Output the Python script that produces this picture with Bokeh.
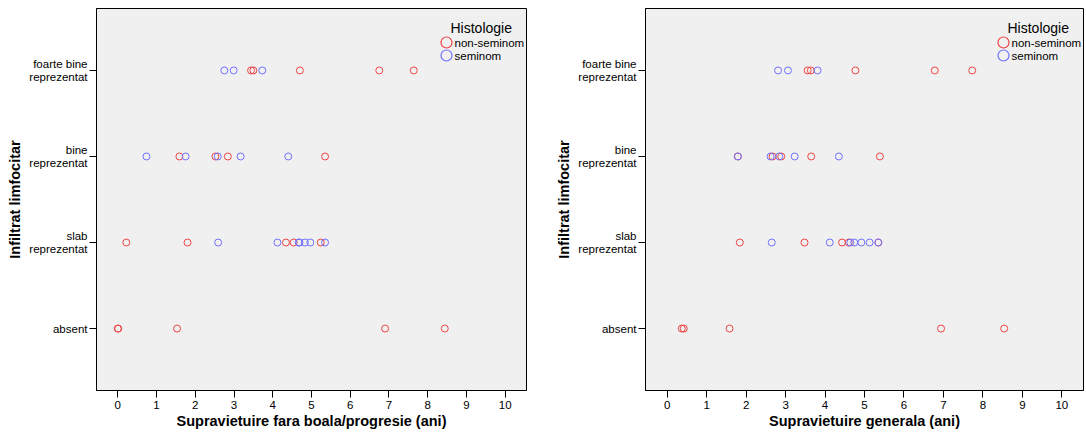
from bokeh.plotting import figure
from bokeh.models import Range1d, FixedTicker, Label, ColumnDataSource
from bokeh.layouts import row
from bokeh.embed import file_html
from bokeh.resources import INLINE

# ---------------- data ----------------
categories = ["absent", "slab\nreprezentat", "bine\nreprezentat", "foarte bine\nreprezentat"]
x_ticks = [0, 1, 2, 3, 4, 5, 6, 7, 8, 9, 10]
groups = ["non-seminom", "seminom"]
legend_title = "Histologie"

# Left chart: Supravietuire fara boala/progresie (ani)
pfs_non_absent = [0.0, 0.01, 1.53, 6.90, 8.44]
pfs_non_slab = [0.22, 1.80, 4.34, 4.54, 5.24]
pfs_non_bine = [1.59, 2.52, 2.84, 5.35]
pfs_non_foarte = [3.44, 3.50, 4.70, 6.75, 7.64]
pfs_sem_absent = []
pfs_sem_slab = [2.59, 4.12, 4.67, 4.69, 4.83, 4.97, 5.35]
pfs_sem_bine = [0.74, 1.75, 2.58, 3.17, 4.40]
pfs_sem_foarte = [2.75, 2.99, 3.73]

# Right chart: Supravietuire generala (ani)
os_non_absent = [0.37, 0.42, 1.58, 6.94, 8.54]
os_non_slab = [1.84, 3.48, 4.43, 4.60, 5.35]
os_non_bine = [1.79, 2.67, 2.89, 3.65, 5.39]
os_non_foarte = [3.56, 3.64, 4.77, 6.78, 7.73]
os_sem_absent = []
os_sem_slab = [2.65, 4.12, 4.64, 4.74, 4.92, 5.13, 5.35]
os_sem_bine = [1.79, 2.62, 2.84, 3.23, 4.35]
os_sem_foarte = [2.81, 3.06, 3.81]

COLORS = ["#ee4444", "#7070ff"]
FONT = "Liberation Sans"
H = 442
BT, BB = 8, 52


def to_source(by_cat):
    xs, ys = [], []
    for i, vals in enumerate(by_cat):
        for v in vals:
            xs.append(v)
            ys.append(i + 1)
    return ColumnDataSource(dict(x=xs, y=ys))


def style_axis(ax, label):
    ax.minor_tick_line_color = None
    ax.major_tick_out = 7
    ax.major_tick_in = 0
    ax.major_tick_line_color = "black"
    ax.axis_line_color = "black"
    ax.major_label_text_font = FONT
    ax.major_label_text_font_size = "11.5px"
    ax.major_label_text_color = "black"
    ax.axis_label = label
    ax.axis_label_text_font = FONT
    ax.axis_label_text_font_style = "bold"
    ax.axis_label_text_font_size = "14.5px"
    ax.axis_label_text_color = "black"


def make_chart(series, xlabel, width, bl, br):
    fw = width - bl - br
    fh = H - BT - BB
    p = figure(width=width, height=H, output_backend="svg", toolbar_location=None,
               x_range=Range1d(-0.55, 10.55), y_range=Range1d(0.28, 4.72),
               min_border_left=bl, min_border_right=br, min_border_top=BT, min_border_bottom=BB)
    p.extra_x_ranges = {"px": Range1d(0, fw)}
    p.extra_y_ranges = {"py": Range1d(0, fh)}
    p.background_fill_color = "#f0f0f0"
    p.border_fill_color = "white"
    p.outline_line_color = "black"
    p.outline_line_width = 1
    p.grid.visible = False

    for by_cat, color in zip(series, COLORS):
        p.scatter("x", "y", source=to_source(by_cat), size=7, fill_color=None,
                  line_color=color, line_width=1)

    # x axis
    xa = p.xaxis[0]
    xa.ticker = FixedTicker(ticks=x_ticks)
    style_axis(xa, xlabel)
    xa.major_label_standoff = 3
    xa.axis_label_standoff = 1

    # y axis
    ya = p.yaxis[0]
    ya.ticker = FixedTicker(ticks=[1, 2, 3, 4])
    ya.major_label_overrides = {i + 1: c for i, c in enumerate(categories)}
    style_axis(ya, "Infiltrat limfocitar")
    ya.major_label_standoff = 2
    ya.major_label_text_line_height = 1.05
    ya.axis_label_standoff = 3

    # legend (drawn in frame pixel coordinates)
    lx = fw - 80
    for k, (g, color) in enumerate(zip(groups, COLORS)):
        ly = fh - 34 - 13 * k
        p.scatter(x=[lx], y=[ly], x_range_name="px", y_range_name="py", size=11,
                  fill_color=None, line_color=color, line_width=1.2)
        p.add_layout(Label(x=lx + 8, y=ly, x_units="screen", y_units="screen", text=g,
                           text_font=FONT, text_font_size="11.5px", text_baseline="middle",
                           text_color="black"))
    p.add_layout(Label(x=fw - 76, y=fh - 19, x_units="screen", y_units="screen",
                       text=legend_title, text_font=FONT, text_font_size="14px",
                       text_baseline="alphabetic", text_color="black"))
    return p


left = make_chart([[pfs_non_absent, pfs_non_slab, pfs_non_bine, pfs_non_foarte],
                   [pfs_sem_absent, pfs_sem_slab, pfs_sem_bine, pfs_sem_foarte]],
                  "Supravietuire fara boala/progresie (ani)", 541, 96, 15)
right = make_chart([[os_non_absent, os_non_slab, os_non_bine, os_non_foarte],
                    [os_sem_absent, os_sem_slab, os_sem_bine, os_sem_foarte]],
                   "Supravietuire generala (ani)", 545, 104, 3)

layout = row(left, right)
open("out.html", "w").write(file_html(layout, INLINE))
